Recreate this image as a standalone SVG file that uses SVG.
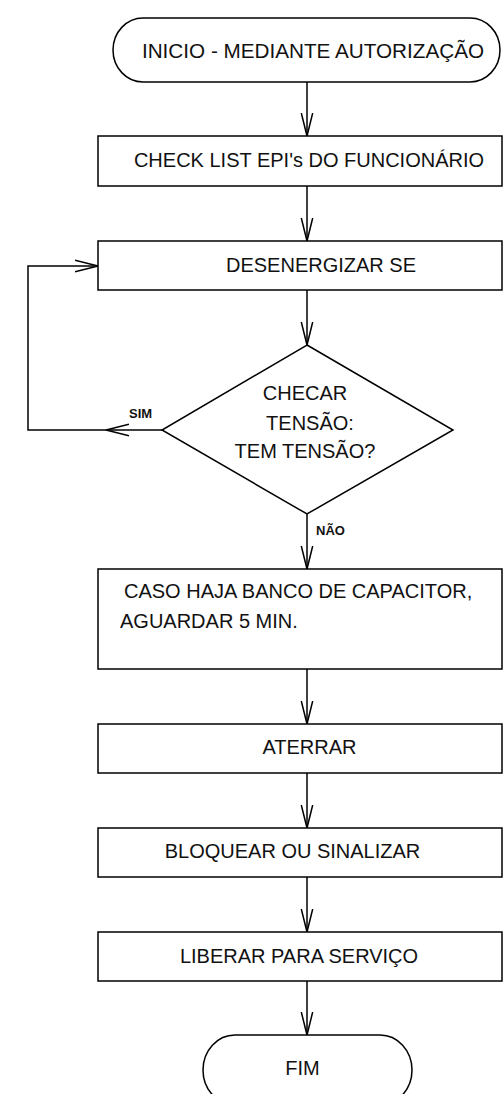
<svg xmlns="http://www.w3.org/2000/svg" width="503" height="1094" viewBox="0 0 503 1094">
<style>
.shape{fill:#fff;stroke:#000;stroke-width:1.5}
.t{font-family:"Liberation Sans",Arial,sans-serif;font-size:20px;fill:#111}
.c{text-anchor:middle}
.lbl{font-family:"Liberation Sans",Arial,sans-serif;font-size:13px;font-weight:bold;fill:#111}
.edge{fill:none;stroke:#000;stroke-width:1.5}
</style>
<defs>
<marker id="arr" viewBox="0 0 24 14" refX="23" refY="7" markerWidth="24" markerHeight="14" markerUnits="userSpaceOnUse" orient="auto">
<path d="M0,1.3 L23,7 L0,12.7" fill="none" stroke="#000" stroke-width="1.5"/>
</marker>
</defs>
<rect width="503" height="1094" fill="#fff"/>
<g id="connectors">
<path class="edge" d="M307,82 V136" marker-end="url(#arr)"/>
<path class="edge" d="M307,186 V241" marker-end="url(#arr)"/>
<path class="edge" d="M307,290 V345" marker-end="url(#arr)"/>
<path class="edge" d="M162,430 H106" marker-end="url(#arr)"/>
<path class="edge" d="M106,430 H28 V266 H98" marker-end="url(#arr)"/>
<path class="edge" d="M307,514 V569" marker-end="url(#arr)"/>
<path class="edge" d="M307,669 V724" marker-end="url(#arr)"/>
<path class="edge" d="M307,773 V828" marker-end="url(#arr)"/>
<path class="edge" d="M307,877 V932" marker-end="url(#arr)"/>
<path class="edge" d="M307,981 V1035" marker-end="url(#arr)"/>
<text class="lbl" x="129" y="418">SIM</text>
<text class="lbl" x="316" y="535">NÃO</text>
</g>
<g id="inicio">
<path class="shape" d="M143,18 H470 A30 32 0 0 1 470,82 H143 A30 32 0 0 1 143,18 Z"/>
<text class="t c" x="313" y="58" style="font-size:20.7px">INICIO - MEDIANTE AUTORIZAÇÃO</text>
</g>
<g id="checklist">
<rect class="shape" x="98" y="136" width="404" height="50"/>
<text class="t c" x="309" y="167">CHECK LIST EPI's DO FUNCIONÁRIO</text>
</g>
<g id="desenergizar">
<rect class="shape" x="98" y="241" width="404" height="49"/>
<text class="t c" x="321" y="272">DESENERGIZAR SE</text>
</g>
<g id="checar">
<polygon class="shape" points="307,345 453,430 307,514 162,430"/>
<text class="t c" x="305" y="400">CHECAR</text>
<text class="t c" x="310" y="430">TENSÃO:</text>
<text class="t c" x="305" y="458">TEM TENSÃO?</text>
</g>
<g id="capacitor">
<rect class="shape" x="98" y="569" width="404" height="100"/>
<text class="t" x="124" y="598">CASO HAJA BANCO DE CAPACITOR,</text>
<text class="t" x="120" y="628">AGUARDAR 5 MIN.</text>
</g>
<g id="aterrar">
<rect class="shape" x="98" y="724" width="404" height="49"/>
<text class="t c" x="309.5" y="754">ATERRAR</text>
</g>
<g id="bloquear">
<rect class="shape" x="98" y="828" width="404" height="49"/>
<text class="t c" x="292.5" y="858">BLOQUEAR OU SINALIZAR</text>
</g>
<g id="liberar">
<rect class="shape" x="98" y="932" width="404" height="49"/>
<text class="t c" x="299" y="963">LIBERAR PARA SERVIÇO</text>
</g>
<g id="fim">
<path class="shape" d="M235,1035 H380 A32 35 0 0 1 380,1105 H235 A32 35 0 0 1 235,1035 Z"/>
<text class="t c" x="302.5" y="1075">FIM</text>
</g>
</svg>
